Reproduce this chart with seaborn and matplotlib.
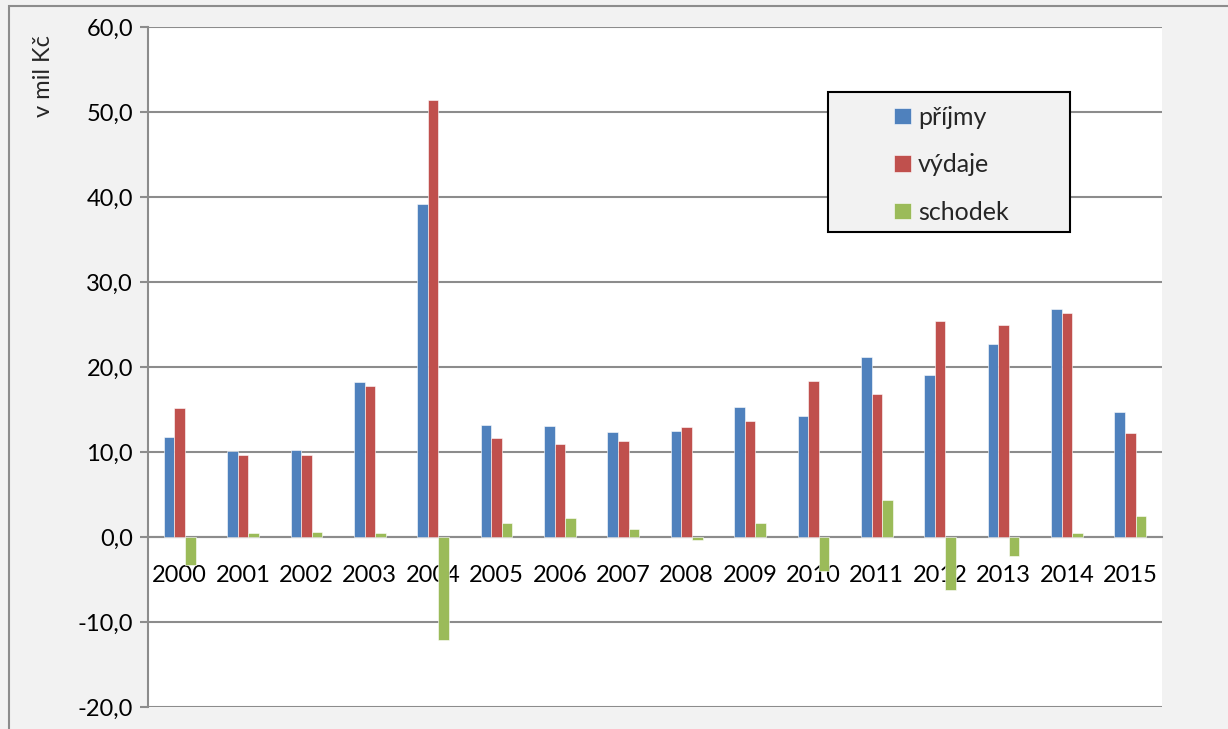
import matplotlib
matplotlib.use("Agg")
import matplotlib.pyplot as plt
import seaborn as sns
import pandas as pd
from matplotlib.patches import Rectangle
from matplotlib.ticker import FuncFormatter, MultipleLocator

years = [str(y) for y in range(2000, 2016)]
prijmy = [11.8, 10.1, 10.2, 18.2, 39.2, 13.2, 13.1, 12.3, 12.5, 15.3, 14.2, 21.2, 19.1, 22.7, 26.8, 14.7]
vydaje = [15.2, 9.7, 9.6, 17.8, 51.4, 11.6, 10.9, 11.3, 12.9, 13.7, 18.3, 16.8, 25.4, 24.9, 26.4, 12.2]
schodek = [-3.3, 0.5, 0.6, 0.5, -12.1, 1.7, 2.2, 1.0, -0.3, 1.7, -4.0, 4.4, -6.2, -2.2, 0.5, 2.5]
series_names = ["příjmy", "výdaje", "schodek"]
colors = ["#4F81BD", "#C0504D", "#9BBB59"]
ylabel = "v mil Kč"

df = pd.DataFrame({
    "rok": years * 3,
    "hodnota": prijmy + vydaje + schodek,
    "řada": [series_names[0]] * 16 + [series_names[1]] * 16 + [series_names[2]] * 16,
})

sns.set_style("white")
plt.rcParams["font.family"] = ["Lato", "DejaVu Sans"]

fig = plt.figure(figsize=(12.28, 7.29), dpi=100, facecolor="#F2F2F2")
ax = fig.add_axes([148 / 1228, 22 / 729, 1014 / 1228, 680 / 729])
ax.set_facecolor("white")

sns.barplot(data=df, x="rok", y="hodnota", hue="řada", palette=colors,
            width=0.5, gap=0, saturation=1, errorbar=None, ax=ax,
            edgecolor="white", linewidth=0.4, zorder=3)

grid_c = "#8C8C8C"
ax.set_ylim(-20, 60)
ax.set_xlim(-0.5, 15.5)
ax.yaxis.set_major_locator(MultipleLocator(10))
ax.yaxis.set_major_formatter(FuncFormatter(lambda v, p: f"{v:.1f}".replace(".", ",")))
ax.grid(axis="y", color=grid_c, linewidth=1.5, zorder=0)
ax.set_axisbelow(True)

for s in ["top", "right"]:
    ax.spines[s].set_visible(False)
ax.spines["left"].set_color(grid_c)
ax.spines["left"].set_linewidth(1.5)
ax.spines["bottom"].set_position(("data", 0))
ax.spines["bottom"].set_color(grid_c)
ax.spines["bottom"].set_linewidth(1.5)
ax.spines["bottom"].set_zorder(2)

ax.tick_params(axis="y", left=True, length=5.8, width=1.5, color=grid_c,
               labelsize=17, pad=5, labelcolor="black")
ax.tick_params(axis="x", bottom=False, length=0, labelsize=17, pad=20, labelcolor="black")
ax.set_xlabel("")
ax.set_ylabel(ylabel, fontsize=17, loc="top")
ax.yaxis.set_label_coords(-0.093, 0.988)

# legend box
ax.add_patch(Rectangle((0.671, 0.699), 0.238, 0.205, transform=ax.transAxes,
                       facecolor="#F2F2F2", edgecolor="black", linewidth=1.5,
                       zorder=5, clip_on=False))
handles, labels = ax.get_legend_handles_labels()
ax.legend(handles, labels, loc="upper left", bbox_to_anchor=(0.736, 0.884),
          frameon=False, fontsize=18, borderpad=0, borderaxespad=0,
          handlelength=0.65, handleheight=0.65, handletextpad=0.3,
          labelspacing=0.98).set_zorder(6)

# outer chart border
fig.add_artist(Rectangle((8.5 / 1228, -0.2), 1.5, (729 - 6) / 729 + 0.2,
                         transform=fig.transFigure, facecolor="none",
                         edgecolor="#8C8C8C", linewidth=1.5, clip_on=False))

fig.savefig("out.png", dpi=100, facecolor=fig.get_facecolor())
